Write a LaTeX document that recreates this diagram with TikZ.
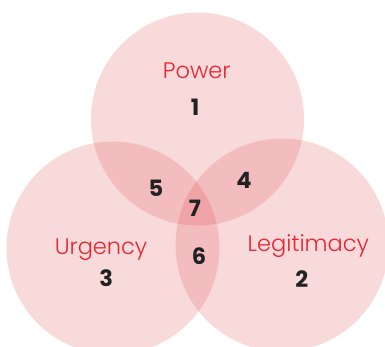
\documentclass[tikz,border=0pt]{standalone}
\usepackage{fontspec}
\setmainfont{Poppins}
\newfontfamily\lightfont{Poppins Light}
\usepackage{xcolor}
\usepackage{tikz}
\definecolor{setred}{RGB}{220,58,64}
\definecolor{labelred}{RGB}{232,36,48}
\definecolor{numdark}{RGB}{34,34,34}
\tikzstyle{set} = [circle, fill=setred, fill opacity=0.19, draw=none,
minimum size=213pt, inner sep=0pt]
\tikzstyle{title} = [text=labelred, anchor=base, inner sep=0pt,
font=\fontsize{22.5}{26}\selectfont\lightfont]
\tikzstyle{region} = [text=numdark, anchor=base, inner sep=0pt,
font=\fontsize{22.5}{26}\selectfont\bfseries]

\begin{document}
\begin{tikzpicture}[x=1pt, y=-1pt]
	\clip (0,0) rectangle (385,347);
	% We start by placing the three sets
	\node [set] (power) at (197.5,119) {};
	\node [set] (urgency) at (113,248) {};
	\node [set] (legitimacy) at (282,245) {};
	
	% Names of the sets
	\node [title] (powername) at (196.7,78.3) {Power};
	\node [title] (urgencyname) at (101,254.3) {Urgency};
	\node [title] (legitimacyname) at (308.3,251.7) {Legitimacy};
	
	% Numbers of the regions
	\node [region] (r1) at (195,115.7) {1};
	\node [region] (r2) at (301.7,287.3) {2};
	\node [region] (r3) at (106.3,286.7) {3};
	\node [region] (r4) at (244,188.3) {4};
	\node [region] (r5) at (156,196.7) {5};
	\node [region] (r6) at (199,264.3) {6};
	\node [region] (r7) at (195,216.7) {7};
\end{tikzpicture}
\end{document}
